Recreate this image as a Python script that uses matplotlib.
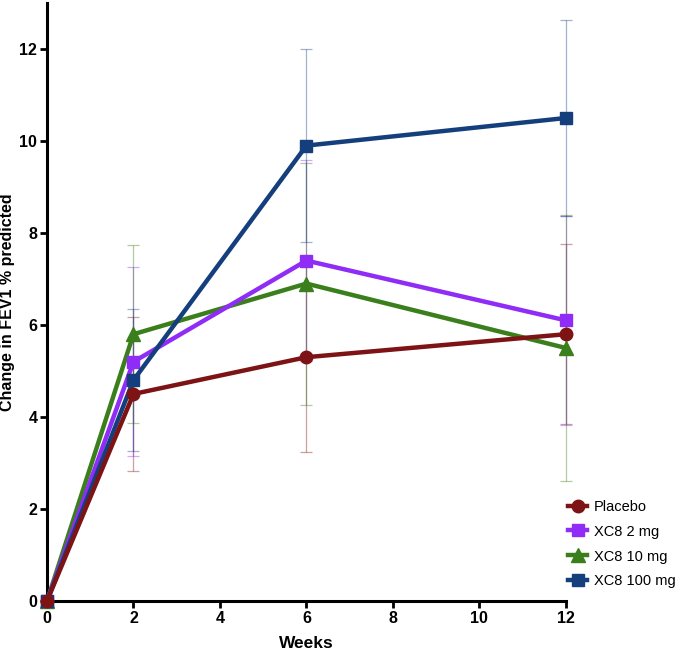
import numpy as np
import matplotlib.pyplot as plt
import matplotlib as mpl

mpl.rcParams['font.family'] = ['Liberation Sans', 'DejaVu Sans']

weeks = [0, 2, 6, 12]
labels = ['Placebo', 'XC8 2 mg', 'XC8 10 mg', 'XC8 100 mg']

placebo = [0, 4.5, 5.3, 5.8]
placebo_err = [0, 1.68, 2.06, 1.95]
xc8_2 = [0, 5.2, 7.4, 6.1]
xc8_2_err = [0, 2.05, 2.18, 2.27]
xc8_10 = [0, 5.8, 6.9, 5.5]
xc8_10_err = [0, 1.93, 2.63, 2.9]
xc8_100 = [0, 4.8, 9.9, 10.5]
xc8_100_err = [0, 1.55, 2.1, 2.12]

colors = ['#7d1315', '#8f2cf5', '#3b7f1d', '#153f7c']
markers = ['o', 's', '^', 's']
series = [placebo, xc8_2, xc8_10, xc8_100]
errors = [placebo_err, xc8_2_err, xc8_10_err, xc8_100_err]

fig = plt.figure(figsize=(6.85, 6.5), dpi=100)
ax = fig.add_axes([0.0686, 0.0754, 0.7575, 0.92])

# 误差线先画（浅色细线）
for y, e, c in zip(series, errors, colors):
    ax.errorbar(weeks[1:], y[1:], yerr=e[1:], fmt='none', ecolor=c, elinewidth=0.9,
                capsize=4.5, capthick=0.9, alpha=0.4, clip_on=False, zorder=2)

handles = []
order = [2, 1, 3, 0]
for i in order:
    h, = ax.plot(weeks, series[i], color=colors[i], marker=markers[i], lw=3.2,
                 markersize=9 if markers[i] != '^' else 10, clip_on=False,
                 zorder=3 + order.index(i), label=labels[i])
    handles.append((i, h))
handles = [h for i, h in sorted(handles)]

ax.set_xlim(0, 12)
ax.set_ylim(0, 13)
ax.set_xticks([0, 2, 4, 6, 8, 10, 12])
ax.set_yticks([0, 2, 4, 6, 8, 10, 12])
for s in ['top', 'right']:
    ax.spines[s].set_visible(False)
for s in ['left', 'bottom']:
    ax.spines[s].set_linewidth(2.2)
ax.tick_params(width=2, length=5, labelsize=11.5, pad=2)
for t in ax.get_xticklabels() + ax.get_yticklabels():
    t.set_fontweight('bold')

ax.set_xlabel('Weeks', fontsize=12.5, fontweight='bold')
ax.xaxis.set_label_coords(0.5, -0.058)
ax.set_ylabel('Change in FEV1 % predicted', fontsize=11.5, fontweight='bold')
ax.yaxis.set_label_coords(-0.062, 0.5)

fig.legend(handles=handles, labels=labels, loc='center left', bbox_to_anchor=(0.815, 0.163),
           frameon=False, fontsize=10.5, handlelength=1.3, handletextpad=0.45, labelspacing=0.75,
           borderpad=0.2)

fig.savefig('out.png', dpi=100)
